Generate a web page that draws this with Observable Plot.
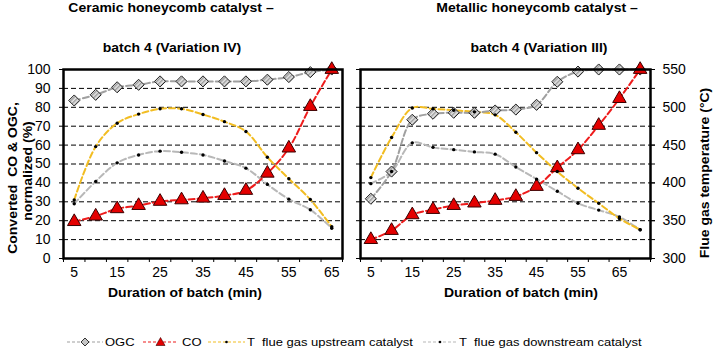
<!DOCTYPE html>
<html><head><meta charset="utf-8">
<script src="https://cdn.jsdelivr.net/npm/d3@7"></script>
<script src="https://cdn.jsdelivr.net/npm/@observablehq/plot@0.6"></script>
<style>
body{margin:0;background:#fff;font-family:"Liberation Sans",Arial,sans-serif;color:#000;}
#c{position:relative;width:713px;height:361px;overflow:hidden;background:#fff;}
.t{position:absolute;white-space:pre;font-weight:bold;font-size:14px;line-height:1;transform:translate(-50%,-50%) scaleY(0.86);}
.r{position:absolute;white-space:pre;font-weight:bold;font-size:14px;line-height:1;transform:translate(-50%,-50%) rotate(-90deg) scaleY(0.9);}
.lg{position:absolute;white-space:pre;font-size:13px;line-height:1;top:342px;transform:translateY(-50%) scaleY(0.9);}
.sw{position:absolute;top:336px;}
</style></head>
<body>
<svg width="0" height="0" style="position:absolute">
  <defs>
    <pattern id="hatch" patternUnits="userSpaceOnUse" width="3" height="3" patternTransform="rotate(45)">
      <rect width="3" height="3" fill="#e4e4e4"></rect>
      <rect width="1.4" height="3" fill="#9c9c9c"></rect>
    </pattern>
  </defs>
</svg>
<div id="c"></div>
<script>
// ---- data ----
const minutesL = [5,10,15,20,25,30,35,40,45,50,55,60,65];
const ogcL   = [83.6,86.6,90.6,91.9,93.7,93.7,93.7,93.7,93.7,94.6,96.0,98.6,100];
const coL    = [19.5,22.4,26.3,28.0,30.2,31.0,31.9,33.3,36.0,45.1,58.4,80.4,100];
const tUpL   = [377.5,448,479,491,498,498,490.5,481,468,434,405.5,378,342];   // °C
const tDownL = [372.5,402,426.5,437,442,440.5,437,429,419.5,398,378.5,364.5,340]; // °C

const minutesR = [5,10,15,20,25,30,35,40,45,50,55,60,65,70];
const ogcR   = [31.6,46.0,73.4,76.6,77.1,77.1,78.3,78.8,81.3,93.5,98.9,100,100,100];
const coR    = [10.0,14.8,23.1,25.9,28.0,29.3,30.7,32.8,38.1,48.0,57.5,70.4,84.6,100];
const tUpR   = [407,460,499,498,496,494,490,467,440,415,393,373,353,338];
const tDownR = [399,415,453,447,444,441,438,421,405,389,373,364,355,338];

const xLabels   = [5,15,25,35,45,55,65];
const pctTicks  = [0,10,20,30,40,50,60,70,80,90,100];
const gridTicks = [10,20,30,40,50,60,70,80,90];
const tempTicks = [300,350,400,450,500,550];
const tempMin = 300, tempMax = 550;

const titles = {
  l1:"Ceramic honeycomb catalyst –", l2:"batch 4 (Variation IV)",
  r1:"Metallic honeycomb catalyst –", r2:"batch 4 (Variation III)",
  x:"Duration of batch (min)", yl1:"Converted  CO & OGC,", yl2:"normalized (%)",
  yr:"Flue gas temperature (°C)"
};
const legendNames = ["OGC","CO","T  flue gas upstream catalyst","T  flue gas downstream catalyst"];

// ---- colours ----
const C = {ogc:"#a0a0a0", co:"#ee1c1c", up:"#f2bd22", down:"#b8b8b8", dia:"url(#hatch)", tri:"#e40000"};

const toPct = t => (t - tempMin) / (tempMax - tempMin) * 100;

function panel({minutes, ogc, co, tUp, tDown, xmax, right}) {
  const rows = minutes.map((m,i)=>({m, ogc:ogc[i], co:co[i], up:toPct(tUp[i]), down:toPct(tDown[i])}));
  const bounds = d3.range(2.5, xmax + 0.01, 5);
  const dash = "6,3";
  const marks = [
    Plot.gridY(gridTicks, {stroke:"#000", strokeOpacity:1, strokeWidth:1, strokeDasharray:"5,3"}),
    Plot.line(rows, {x:"m", y:"down", stroke:C.down, strokeWidth:2, strokeDasharray:dash, curve:"catmull-rom"}),
    Plot.line(rows, {x:"m", y:"up", stroke:C.up, strokeWidth:2, strokeDasharray:dash, curve:"catmull-rom"}),
    Plot.line(rows, {x:"m", y:"ogc", stroke:C.ogc, strokeWidth:2, strokeDasharray:dash, curve:"catmull-rom"}),
    Plot.line(rows, {x:"m", y:"co", stroke:C.co, strokeWidth:2, strokeDasharray:dash, curve:"catmull-rom"}),
    Plot.dot(rows, {x:"m", y:"ogc", symbol:"diamond2", r:5, fill:C.dia, stroke:"#222", strokeWidth:1}),
    Plot.dot(rows, {x:"m", y:"co", symbol:"triangle", r:5, fill:C.tri, stroke:"#3a0000", strokeWidth:1}),
    Plot.dot(rows, {x:"m", y:"down", r:1.7, fill:"#000"}),
    Plot.dot(rows, {x:"m", y:"up", r:1.7, fill:"#000"}),
    Plot.frame({stroke:"#000", strokeWidth:2.5}),
    Plot.axisX(bounds, {tickSize:4, tickFormat:()=>"", label:null}),
    Plot.axisX(xLabels, {tickSize:0, tickPadding:9, label:null})
  ];
  if (!right) {
    marks.push(Plot.axisY(pctTicks, {anchor:"left", tickSize:4, tickPadding:9, label:null}));
  } else {
    marks.push(Plot.axisY(pctTicks, {anchor:"left", tickSize:4, tickFormat:()=>"", label:null}));
    marks.push(Plot.axisY(pctTicks, {anchor:"right", tickSize:4, tickFormat:()=>"", label:null}));
    marks.push(Plot.axisY(tempTicks.map(toPct), {anchor:"right", tickSize:4, tickPadding:8,
      tickFormat:d=>String(Math.round(tempMin + d*(tempMax-tempMin)/100)), label:null}));
  }
  return Plot.plot({
    width: right ? 358 : 355, height: 230,
    marginLeft: right ? 5 : 63, marginRight: right ? 63 : 13, marginTop: 9, marginBottom: 32,
    x:{domain:[2.5, xmax]}, y:{domain:[0,100]},
    style:{fontFamily:"Liberation Sans, Arial, sans-serif", fontSize:"14px", color:"#000", background:"transparent", overflow:"visible"},
    marks
  });
}

const c = document.getElementById("c");
const pl = panel({minutes:minutesL, ogc:ogcL, co:coL, tUp:tUpL, tDown:tDownL, xmax:67.5, right:false});
pl.style.position="absolute"; pl.style.left = "0px"; pl.style.top="60px";
const pr = panel({minutes:minutesR, ogc:ogcR, co:coR, tUp:tUpR, tDown:tDownR, xmax:72.5, right:true});
pr.style.position="absolute"; pr.style.left = "355px"; pr.style.top="60px";
c.appendChild(pl); c.appendChild(pr);

function txt(cls, s, x, y) {
  const d = document.createElement("div");
  d.className = cls; d.textContent = s;
  d.style.left = x + "px"; d.style.top = y + "px";
  c.appendChild(d); return d;
}
txt("t", titles.l1, 171, 8);
txt("t", titles.l2, 172, 48);
txt("t", titles.r1, 537, 8);
txt("t", titles.r2, 539, 48);
txt("t", titles.x, 185, 293);
txt("t", titles.x, 521, 293);
txt("r", titles.yl1, 12, 178);
txt("r", titles.yl2, 27, 171);
txt("r", titles.yr, 704, 173);

// legend
const ns = "http://www.w3.org/2000/svg";
function swatch(x, w, color, kind) {
  const s = document.createElementNS(ns, "svg");
  s.setAttribute("width", w); s.setAttribute("height", 12);
  s.setAttribute("class", "sw"); s.style.left = x + "px";
  const l = document.createElementNS(ns, "line");
  l.setAttribute("x1", 0); l.setAttribute("x2", w); l.setAttribute("y1", 6); l.setAttribute("y2", 6);
  l.setAttribute("stroke", color); l.setAttribute("stroke-width", 1.2); l.setAttribute("stroke-dasharray", "3,2");
  s.appendChild(l);
  const cx = w/2;
  let m;
  if (kind === "dia") {
    m = document.createElementNS(ns, "path");
    m.setAttribute("d", `M${cx},2L${cx+4},6L${cx},10L${cx-4},6Z`);
    m.setAttribute("fill", "#c6c6c6"); m.setAttribute("stroke", "#333");
  } else if (kind === "tri") {
    m = document.createElementNS(ns, "path");
    m.setAttribute("d", `M${cx},1.5L${cx+4.5},9.5L${cx-4.5},9.5Z`);
    m.setAttribute("fill", C.tri); m.setAttribute("stroke", "#3a0000"); m.setAttribute("stroke-width", 0.6);
  } else {
    m = document.createElementNS(ns, "circle");
    m.setAttribute("cx", cx); m.setAttribute("cy", 6); m.setAttribute("r", 1.3); m.setAttribute("fill", "#000");
  }
  s.appendChild(m);
  c.appendChild(s);
}
swatch(67, 36, C.ogc, "dia");   txt("lg", legendNames[0], 105, 342);
swatch(143, 35, C.co, "tri");   txt("lg", legendNames[1], 182, 342);
swatch(208, 37, C.up, "dot");   txt("lg", legendNames[2], 247, 342);
swatch(423, 34, C.down, "dot"); txt("lg", legendNames[3], 459, 342);
</script></body></html>
